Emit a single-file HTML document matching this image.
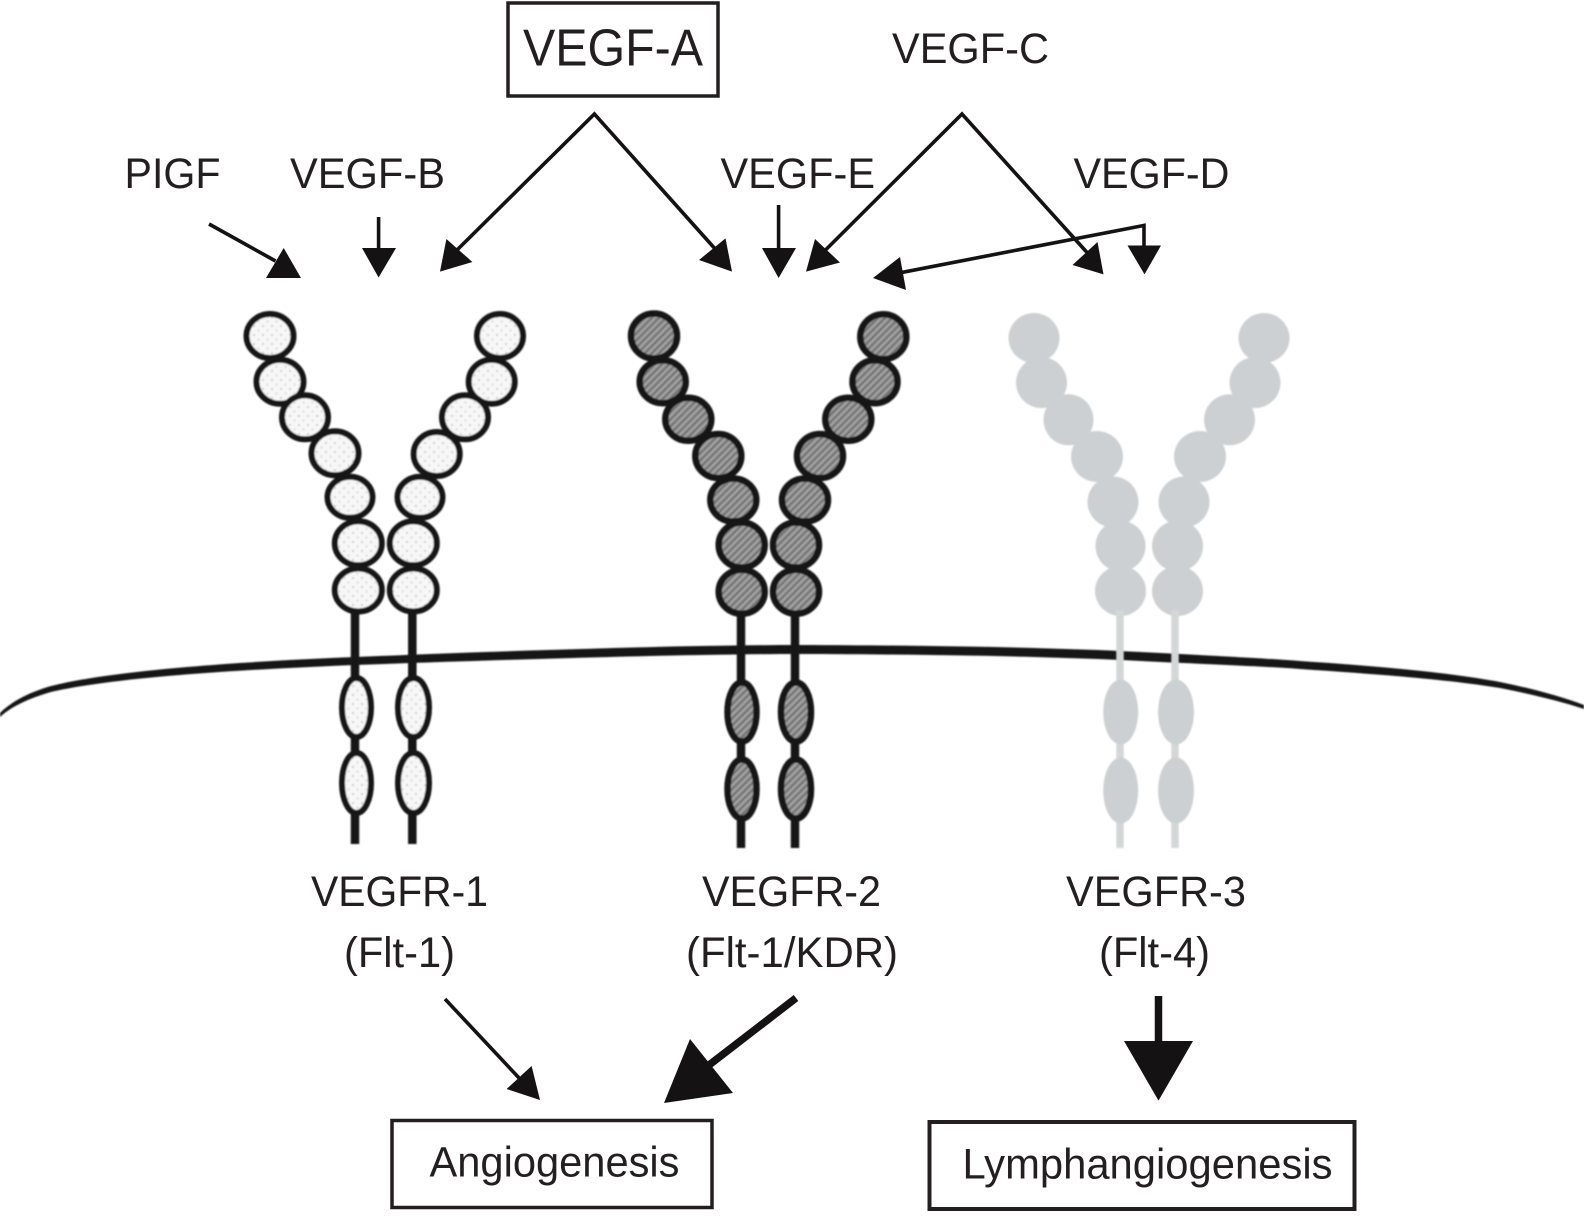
<!DOCTYPE html>
<html><head><meta charset="utf-8"><title>VEGF receptors</title>
<style>
html,body{margin:0;padding:0;background:#fff}
svg{display:block}
text{font-family:"Liberation Sans",sans-serif;fill:#231f20}
</style></head><body>
<svg width="1584" height="1222" viewBox="0 0 1584 1222" xmlns="http://www.w3.org/2000/svg">
<defs>
<pattern id="dots" width="9" height="9" patternUnits="userSpaceOnUse">
<rect width="9" height="9" fill="#f7f7f7"/><circle cx="2" cy="2" r="1" fill="#c4c4c4"/><circle cx="6.5" cy="6.5" r="1" fill="#d2d2d2"/>
</pattern>
<pattern id="hatch" width="5" height="5" patternUnits="userSpaceOnUse" patternTransform="rotate(-45)">
<rect width="5" height="5" fill="#8f8f8f"/><rect width="5" height="1.4" fill="#6a6a6a"/><rect y="2.6" width="5" height="1" fill="#b0b0b0"/>
</pattern>
<filter id="soft" x="-5%" y="-5%" width="110%" height="110%"><feGaussianBlur stdDeviation="0.9"/></filter>
</defs>
<rect width="1584" height="1222" fill="#fff"/>

<!-- receptor 3 -->
<g fill="#cdd0d2" filter="url(#soft)">
<ellipse cx="1034" cy="338" rx="25.5" ry="25"/><ellipse cx="1041.5" cy="382.6" rx="25.5" ry="25.5"/><ellipse cx="1068.5" cy="419.8" rx="25" ry="25.5"/><ellipse cx="1097" cy="456.5" rx="26" ry="25.5"/><ellipse cx="1113" cy="502" rx="25.5" ry="25.5"/><ellipse cx="1120.5" cy="546" rx="25" ry="25.5"/><ellipse cx="1120.5" cy="591" rx="25.5" ry="25"/>
<ellipse cx="1264" cy="338" rx="25.5" ry="25"/><ellipse cx="1255" cy="382.6" rx="25.5" ry="25.5"/><ellipse cx="1229.5" cy="419.8" rx="25.5" ry="25.5"/><ellipse cx="1200" cy="456.5" rx="26" ry="25.5"/><ellipse cx="1184" cy="502" rx="25.5" ry="25.5"/><ellipse cx="1177.5" cy="546" rx="25.5" ry="25.5"/><ellipse cx="1177.5" cy="591" rx="25.5" ry="25"/>
</g>

<!-- membrane -->
<path d="M0,713 C12,701 30,692 51,686 C110,671 230,662 355,657 C500,651 680,645 800,645 C930,645.5 1020,647 1110,650.5 C1200,655 1260,658 1300,661 C1390,667 1450,673 1500,682 C1530,688 1560,696 1584,705 L1584,709 C1560,701 1530,694 1500,688 C1450,680 1390,675 1300,669 C1260,666 1200,664 1110,659.5 C1020,656 930,654.5 800,654 C680,654 500,660 355,665 C230,670 110,678 51,692 C30,698 12,706 0,717 Z" fill="#151213" filter="url(#soft)"/>

<!-- receptor 3 stems -->
<g filter="url(#soft)">
<path d="M1120,610V848M1175,610V848" stroke="#d4d7d8" stroke-width="7.5" fill="none"/>
<g fill="#cdd0d2">
<ellipse cx="1120.7" cy="712" rx="17.5" ry="32.5"/><ellipse cx="1120.7" cy="790.5" rx="17.5" ry="33"/>
<ellipse cx="1176" cy="712" rx="18" ry="32.5"/><ellipse cx="1176" cy="790.5" rx="18" ry="33"/>
</g>
</g>

<!-- receptor 1 -->
<g filter="url(#soft)">
<path d="M355,610V844M412.3,610V844" stroke="#151213" stroke-width="8.5" fill="none"/>
<g fill="url(#dots)" stroke="#151213" stroke-width="6">
<ellipse cx="356.5" cy="707.5" rx="14.5" ry="29.5"/><ellipse cx="356.5" cy="783" rx="14.5" ry="30"/>
<ellipse cx="413.5" cy="707.5" rx="15.5" ry="29.5"/><ellipse cx="413.5" cy="783" rx="15.5" ry="30"/>
<ellipse cx="270" cy="336" rx="23.5" ry="22"/><ellipse cx="280" cy="381.7" rx="23.5" ry="22"/><ellipse cx="305" cy="417.3" rx="23" ry="22"/><ellipse cx="335" cy="453.3" rx="23.5" ry="22"/><ellipse cx="350" cy="497.3" rx="22.5" ry="20.5"/><ellipse cx="358.3" cy="543.3" rx="23.5" ry="22"/><ellipse cx="358.3" cy="590" rx="23.5" ry="21.5"/>
<ellipse cx="500" cy="336" rx="23" ry="22"/><ellipse cx="491.7" cy="381.7" rx="23" ry="22"/><ellipse cx="465" cy="417.3" rx="23" ry="22"/><ellipse cx="436.7" cy="454" rx="23" ry="22"/><ellipse cx="420" cy="497.3" rx="22.5" ry="20.5"/><ellipse cx="413.3" cy="543.3" rx="23.5" ry="22"/><ellipse cx="413.3" cy="590" rx="23.5" ry="21.5"/>
</g>
</g>

<!-- receptor 2 -->
<g filter="url(#soft)">
<path d="M741,612V848M795,612V848" stroke="#151213" stroke-width="8.5" fill="none"/>
<g fill="url(#hatch)" stroke="#151213" stroke-width="6.5">
<ellipse cx="742" cy="712" rx="14.5" ry="29.5"/><ellipse cx="742" cy="789" rx="14.5" ry="29.5"/>
<ellipse cx="796" cy="712" rx="15" ry="29.5"/><ellipse cx="796" cy="789" rx="15" ry="29.5"/>
<ellipse cx="654" cy="336" rx="23" ry="22.5"/><ellipse cx="662.7" cy="381.7" rx="23" ry="21.5"/><ellipse cx="688.3" cy="419.3" rx="23" ry="21.5"/><ellipse cx="718.3" cy="456" rx="23" ry="22"/><ellipse cx="733.3" cy="500" rx="23" ry="21.5"/><ellipse cx="741.7" cy="545" rx="23" ry="22.5"/><ellipse cx="741.7" cy="591.7" rx="23" ry="22"/>
<ellipse cx="883.3" cy="336.7" rx="23" ry="22.5"/><ellipse cx="875" cy="381.7" rx="22.5" ry="21.5"/><ellipse cx="848.3" cy="419.3" rx="23" ry="21.5"/><ellipse cx="820" cy="456" rx="23" ry="22"/><ellipse cx="805" cy="500" rx="23" ry="21.5"/><ellipse cx="796" cy="545" rx="23" ry="22.5"/><ellipse cx="796" cy="591.7" rx="23" ry="22"/>
</g>
</g>

<!-- boxes -->
<g fill="none" stroke="#231f20">
<rect x="508" y="3" width="210" height="93" stroke-width="3.5"/>
<rect x="392" y="1120.5" width="320" height="87" stroke-width="3.5"/>
<rect x="929.5" y="1122" width="425" height="87" stroke-width="4"/>
</g>

<!-- thin lines -->
<g fill="none" stroke="#151213" stroke-width="3.6" stroke-linejoin="miter">
<path d="M209,224L275.5,261"/>
<path d="M378.6,217V250"/>
<path d="M454,253L594.4,114L717,251"/>
<path d="M778.6,205V250"/>
<path d="M822.5,253L962,114L1087.5,253"/>
<path d="M900,272.8L1144,225.4V247"/>
<path d="M445,999L520,1079"/>
</g>
<path d="M796,998L700,1072" stroke="#151213" stroke-width="7.5" fill="none"/>
<path d="M1158.5,996V1044" stroke="#151213" stroke-width="7.5" fill="none"/>

<!-- arrowheads -->
<g fill="#151213">
<polygon points="283.7,248 301,278 266,278"/>
<polygon points="362,248 396,248 378.6,277.5"/>
<polygon points="446.4,239 472.4,262 440,271.6"/>
<polygon points="725.5,238.4 699,260 732,271.6"/>
<polygon points="762,248 796,248 778.6,278"/>
<polygon points="815,239 840,262.5 806,271.6"/>
<polygon points="1097.5,242 1072.5,265 1103.5,274.4"/>
<polygon points="1127.5,245.5 1161,245.5 1144.5,274.4"/>
<polygon points="900,257 873,278 906,290"/>
<polygon points="531.6,1066 506.6,1089 540,1100"/>
<polygon points="690,1039 733,1093 664,1103"/>
<polygon points="1124,1041 1193,1041 1158.5,1100.6"/>
</g>

<!-- labels -->
<text x="523" y="65.5" font-size="52" textLength="180" lengthAdjust="spacingAndGlyphs">VEGF-A</text>
<text x="892" y="63" font-size="43" textLength="157" lengthAdjust="spacingAndGlyphs">VEGF-C</text>
<text x="124.5" y="188" font-size="43" textLength="96" lengthAdjust="spacingAndGlyphs">PIGF</text>
<text x="290" y="188" font-size="43" textLength="155" lengthAdjust="spacingAndGlyphs">VEGF-B</text>
<text x="720.5" y="188" font-size="43" textLength="154.5" lengthAdjust="spacingAndGlyphs">VEGF-E</text>
<text x="1073.5" y="188" font-size="43" textLength="156" lengthAdjust="spacingAndGlyphs">VEGF-D</text>
<text x="311" y="906" font-size="43" textLength="177" lengthAdjust="spacingAndGlyphs">VEGFR-1</text>
<text x="344" y="967" font-size="43" textLength="111" lengthAdjust="spacingAndGlyphs">(Flt-1)</text>
<text x="702" y="906" font-size="43" textLength="179" lengthAdjust="spacingAndGlyphs">VEGFR-2</text>
<text x="686" y="967" font-size="43" textLength="212" lengthAdjust="spacingAndGlyphs">(Flt-1/KDR)</text>
<text x="1066" y="906" font-size="43" textLength="180" lengthAdjust="spacingAndGlyphs">VEGFR-3</text>
<text x="1099" y="967" font-size="43" textLength="111" lengthAdjust="spacingAndGlyphs">(Flt-4)</text>
<text x="429.5" y="1176.5" font-size="43" textLength="250" lengthAdjust="spacingAndGlyphs">Angiogenesis</text>
<text x="962.5" y="1178.5" font-size="43" textLength="370" lengthAdjust="spacingAndGlyphs">Lymphangiogenesis</text>
</svg>
</body></html>
